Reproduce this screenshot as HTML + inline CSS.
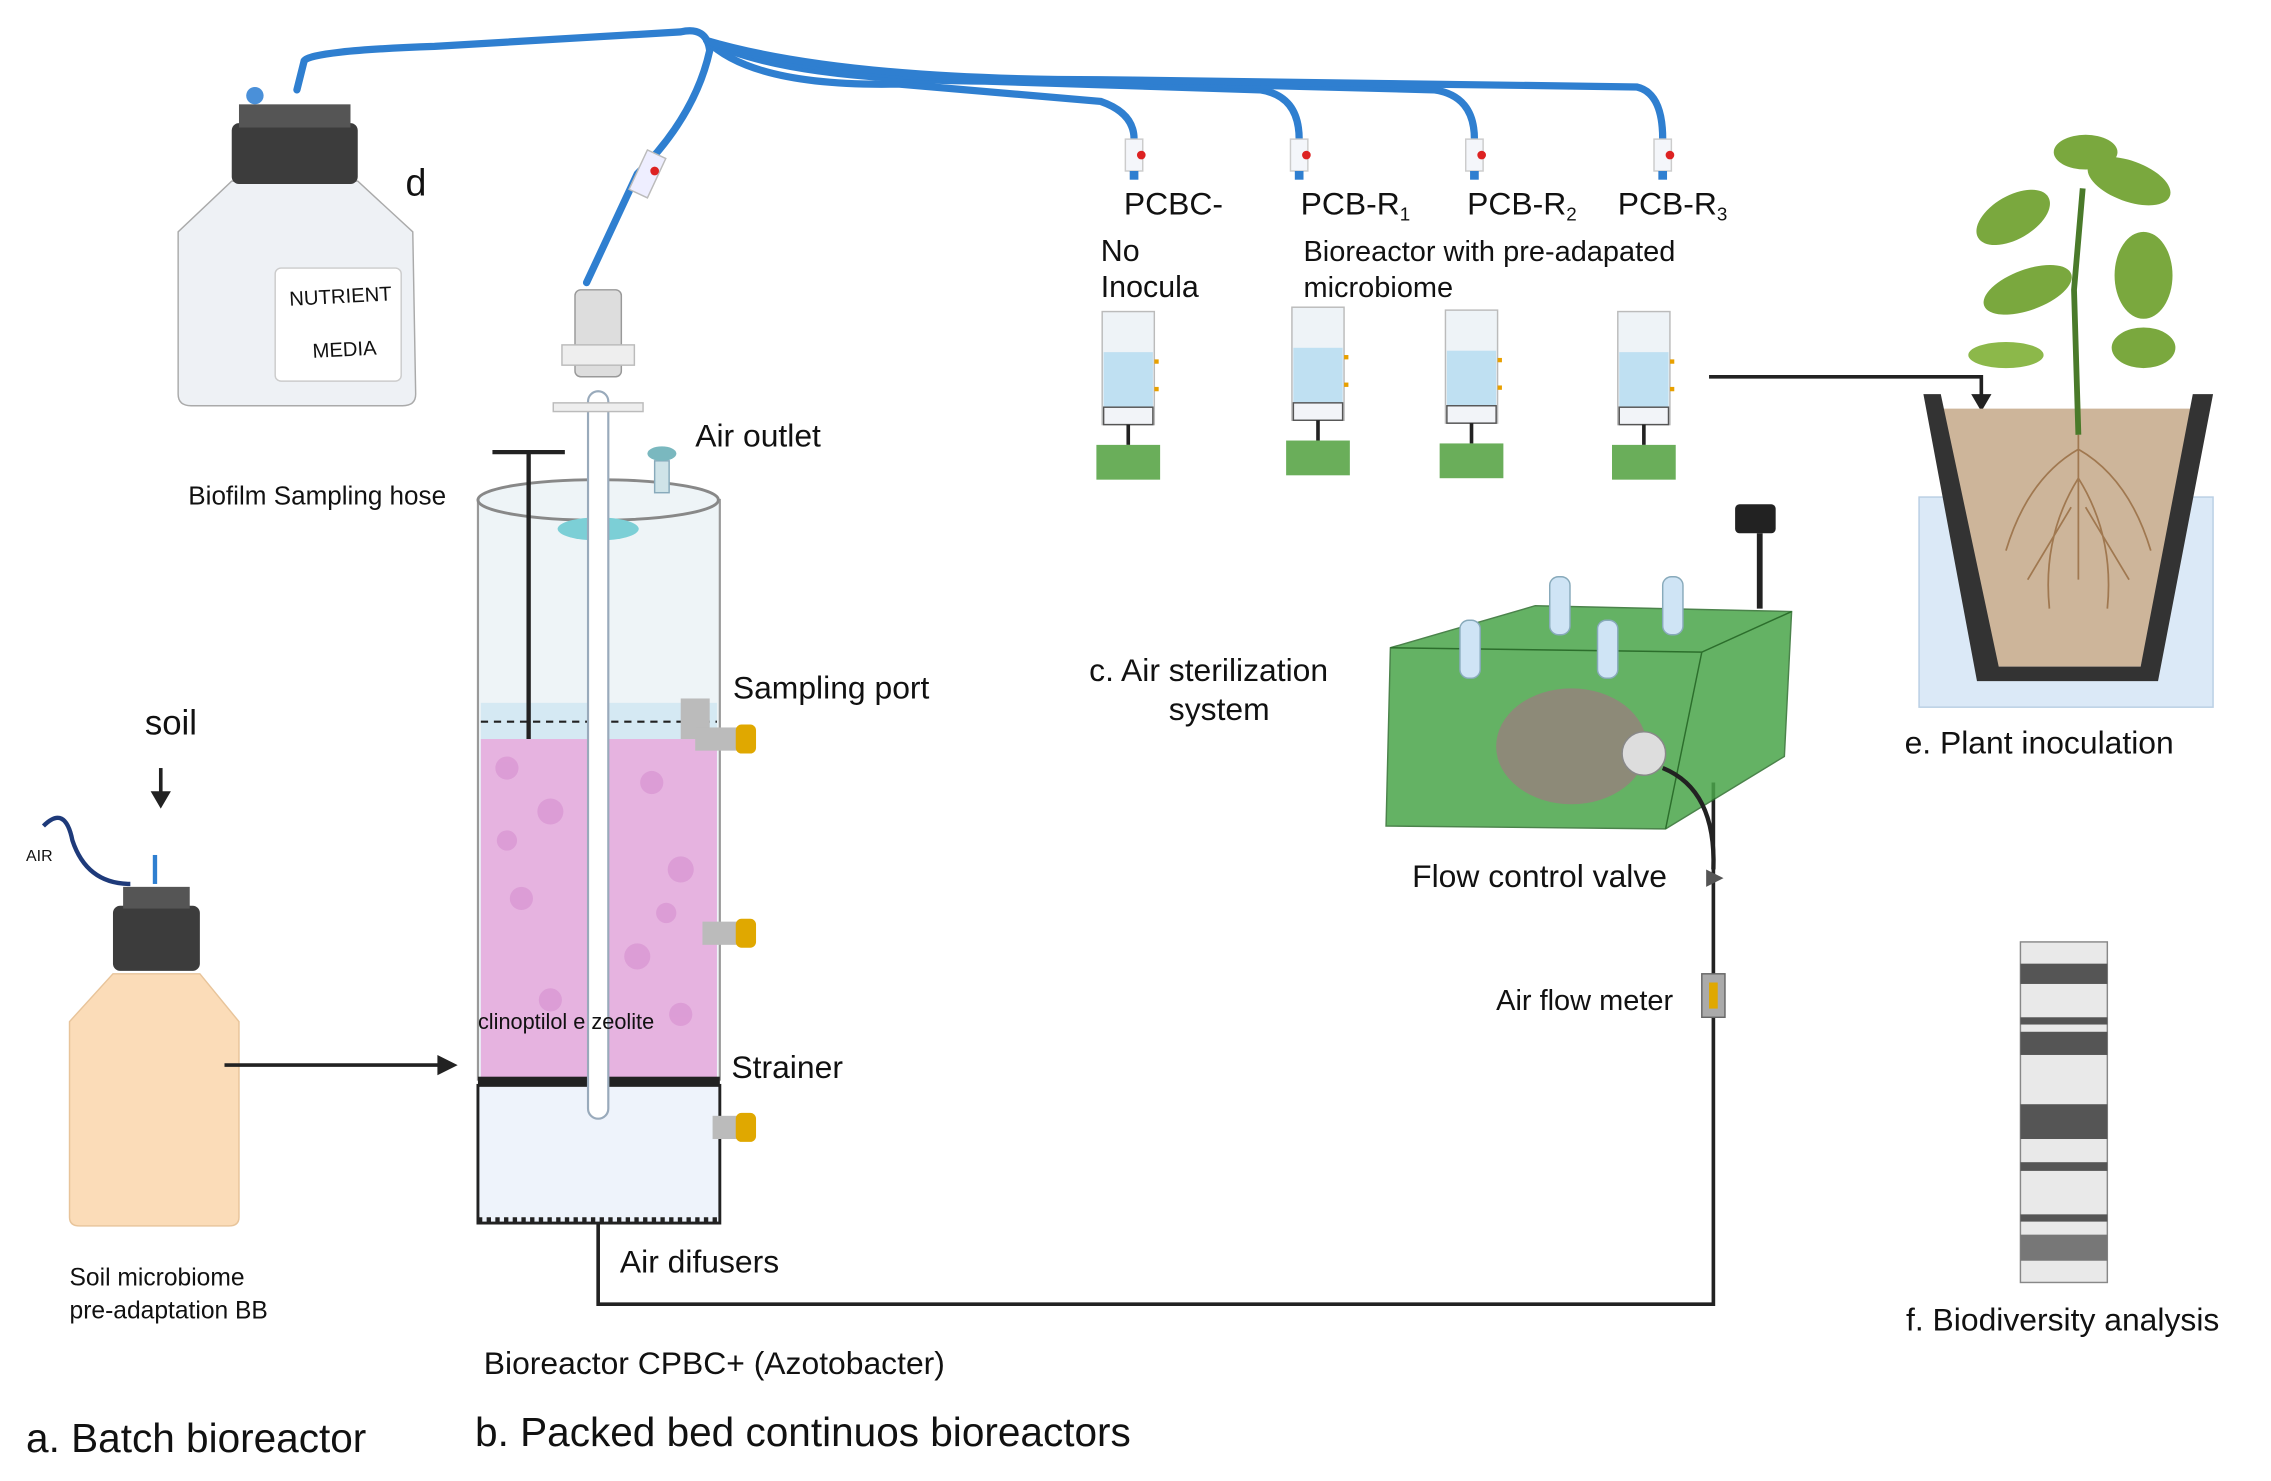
<!DOCTYPE html>
<html><head><meta charset="utf-8"><style>
html,body{margin:0;padding:0;background:#fff;}
svg{display:block;}
text{font-family:"Liberation Sans",sans-serif;fill:#111;}
</style></head><body>
<svg width="2271" height="1481" viewBox="0 0 1568 1022" preserveAspectRatio="none" xmlns="http://www.w3.org/2000/svg">
<defs>
<g id="sr">
<rect x="-18" y="0" width="36" height="78" fill="#eef3f7" stroke="#bbb"/>
<rect x="-17" y="28" width="34" height="38" fill="#bfe0f2"/>
<rect x="-17" y="66" width="34" height="12" fill="#f2f4f8" stroke="#555" stroke-width="1"/>
<line x1="0" y1="78" x2="0" y2="92" stroke="#222" stroke-width="2.5"/>
<rect x="-22" y="92" width="44" height="24" fill="#6aae5a"/>
<rect x="18" y="33" width="3" height="3" fill="#e8a000"/><rect x="18" y="52" width="3" height="3" fill="#e8a000"/>
</g>
</defs>
<rect width="1568" height="1022" fill="#fff"/>
<g fill="none" stroke="#2f7fd0" stroke-width="5" stroke-linecap="round">
<path d="M205,62 L210,42 Q215,35 300,32 L470,22 Q488,18 490,35 Q480,80 440,120 L405,195"/>
<path d="M488,28 Q520,60 620,58 L760,70 Q783,78 783,96"/>
<path d="M488,28 Q540,55 680,56 L870,62 Q897,66 897,96"/>
<path d="M488,28 Q560,55 720,55 L990,62 Q1018,66 1018,96"/>
<path d="M488,28 Q580,55 760,55 L1130,60 Q1148,64 1148,96"/>
</g>
<rect x="440" y="105" width="14" height="30" fill="#eef" stroke="#bbb" transform="rotate(25 447 120)"/>
<circle cx="452" cy="118" r="3" fill="#d22"/>
<g>
<g transform="translate(783,96)"><rect x="-6" y="0" width="12" height="22" fill="#f4f6fa" stroke="#ccc"/><circle cx="5" cy="11" r="3" fill="#d22"/><rect x="-3" y="22" width="6" height="6" fill="#2f7fd0"/></g>
<g transform="translate(897,96)"><rect x="-6" y="0" width="12" height="22" fill="#f4f6fa" stroke="#ccc"/><circle cx="5" cy="11" r="3" fill="#d22"/><rect x="-3" y="22" width="6" height="6" fill="#2f7fd0"/></g>
<g transform="translate(1018,96)"><rect x="-6" y="0" width="12" height="22" fill="#f4f6fa" stroke="#ccc"/><circle cx="5" cy="11" r="3" fill="#d22"/><rect x="-3" y="22" width="6" height="6" fill="#2f7fd0"/></g>
<g transform="translate(1148,96)"><rect x="-6" y="0" width="12" height="22" fill="#f4f6fa" stroke="#ccc"/><circle cx="5" cy="11" r="3" fill="#d22"/><rect x="-3" y="22" width="6" height="6" fill="#2f7fd0"/></g>
</g>
<text x="776" y="148" font-size="22">PCBC-</text>
<text x="760" y="180" font-size="21">No</text>
<text x="760" y="205" font-size="21">Inocula</text>
<text x="898" y="148" font-size="22">PCB-R<tspan font-size="13" dy="4">1</tspan></text>
<text x="1013" y="148" font-size="22">PCB-R<tspan font-size="13" dy="4">2</tspan></text>
<text x="1117" y="148" font-size="22">PCB-R<tspan font-size="13" dy="4">3</tspan></text>
<text x="900" y="180" font-size="20">Bioreactor with pre-adapated</text>
<text x="900" y="205" font-size="20">microbiome</text>
<use href="#sr" transform="translate(779,215)"/>
<use href="#sr" transform="translate(910,212)"/>
<use href="#sr" transform="translate(1016,214)"/>
<use href="#sr" transform="translate(1135,215)"/>
<path d="M1180,260 L1368,260 L1368,276" fill="none" stroke="#222" stroke-width="2.5"/>
<polygon points="1361,272 1375,272 1368,284" fill="#222"/>
<rect x="1325" y="343" width="203" height="145" fill="#dbe9f7" stroke="#b9cfe4"/>
<polygon points="1342,282 1515,282 1478,460 1378,460" fill="#cdb59a"/>
<path d="M1328,272 L1340,272 L1380,460 L1478,460 L1514,272 L1528,272 L1490,470 L1365,470 Z" fill="#333"/>
<g stroke="#a07850" stroke-width="1.2" fill="none">
<path d="M1435,300 L1435,400 M1435,310 Q1400,330 1385,380 M1435,310 Q1470,330 1485,380 M1435,330 Q1410,370 1415,420 M1435,330 Q1460,370 1455,420 M1430,350 L1400,400 M1440,350 L1470,400"/>
</g>
<path d="M1435,300 L1432,200 L1438,130" stroke="#4a7a2a" stroke-width="4" fill="none"/>
<g fill="#7aa83e">
<ellipse cx="1390" cy="150" rx="28" ry="15" transform="rotate(-30 1390 150)"/>
<ellipse cx="1470" cy="125" rx="30" ry="14" transform="rotate(20 1470 125)"/>
<ellipse cx="1400" cy="200" rx="32" ry="14" transform="rotate(-20 1400 200)"/>
<ellipse cx="1480" cy="190" rx="20" ry="30"/>
<ellipse cx="1440" cy="105" rx="22" ry="12"/>
<ellipse cx="1385" cy="245" rx="26" ry="9" fill="#8cb84a"/>
<ellipse cx="1480" cy="240" rx="22" ry="14"/>
</g>
<text x="1315" y="520" font-size="22">e. Plant inoculation</text>
<path d="M160,125 L247,125 L285,160 L287,272 Q287,280 278,280 L132,280 Q123,280 123,272 L123,160 Z" fill="#eef1f5" stroke="#aaa"/>
<rect x="160" y="85" width="87" height="42" rx="5" fill="#3c3c3c"/>
<rect x="165" y="72" width="77" height="16" fill="#555"/>
<rect x="190" y="185" width="87" height="78" rx="4" fill="#fff" stroke="#ccc"/>
<text x="200" y="211" font-size="14" transform="rotate(-3 200 211)">NUTRIENT</text>
<text x="216" y="247" font-size="14" transform="rotate(-3 216 247)">MEDIA</text>
<circle cx="176" cy="66" r="6" fill="#4a90d9"/>
<text x="280" y="135" font-size="26">d</text>
<rect x="330" y="345" width="167" height="400" fill="#eef4f7" stroke="#999" stroke-width="1.5"/>
<rect x="332" y="485" width="163" height="260" fill="#d5e9f3"/>
<rect x="332" y="510" width="163" height="235" fill="#e6b3e0"/>
<g fill="#d894d2" opacity="0.7">
<circle cx="350" cy="530" r="8"/><circle cx="380" cy="560" r="9"/><circle cx="450" cy="540" r="8"/><circle cx="470" cy="600" r="9"/><circle cx="360" cy="620" r="8"/><circle cx="440" cy="660" r="9"/><circle cx="380" cy="690" r="8"/><circle cx="470" cy="700" r="8"/><circle cx="350" cy="580" r="7"/><circle cx="460" cy="630" r="7"/>
</g>
<line x1="332" y1="498" x2="495" y2="498" stroke="#222" stroke-dasharray="5,4" stroke-width="1.5"/>
<ellipse cx="413" cy="345" rx="83" ry="14" fill="#eef4f7" stroke="#888" stroke-width="2"/>
<ellipse cx="413" cy="365" rx="28" ry="8" fill="#7ccfd6"/>
<rect x="330" y="743" width="167" height="6" fill="#222"/>
<rect x="330" y="749" width="167" height="95" fill="#eef3fb" stroke="#222" stroke-width="2"/>
<line x1="330" y1="842" x2="497" y2="842" stroke="#222" stroke-width="4" stroke-dasharray="3,3"/>
<rect x="406" y="270" width="14" height="502" rx="7" fill="#fff" stroke="#9ab" stroke-width="1.5"/>
<rect x="397" y="200" width="32" height="60" rx="4" fill="#ddd" stroke="#999"/>
<rect x="388" y="238" width="50" height="14" fill="#eee" stroke="#bbb"/>
<rect x="382" y="278" width="62" height="6" fill="#eee" stroke="#bbb"/>
<line x1="365" y1="312" x2="365" y2="510" stroke="#222" stroke-width="3"/>
<line x1="340" y1="312" x2="390" y2="312" stroke="#222" stroke-width="3"/>
<rect x="452" y="318" width="10" height="22" fill="#cfe3e8" stroke="#8ab"/>
<ellipse cx="457" cy="313" rx="10" ry="5" fill="#7ab8bf"/>
<g>
<rect x="470" y="482" width="20" height="28" fill="#bbb"/>
<rect x="480" y="502" width="30" height="16" fill="#bbb"/><rect x="508" y="500" width="14" height="20" rx="4" fill="#e0a800"/>
<rect x="485" y="636" width="25" height="16" fill="#bbb"/><rect x="508" y="634" width="14" height="20" rx="4" fill="#e0a800"/>
<rect x="492" y="770" width="18" height="16" fill="#bbb"/><rect x="508" y="768" width="14" height="20" rx="4" fill="#e0a800"/>
</g>
<text x="480" y="308" font-size="22">Air outlet</text>
<text x="130" y="348" font-size="18">Biofilm Sampling hose</text>
<text x="506" y="482" font-size="22">Sampling port</text>
<text x="330" y="710" font-size="15">clinoptilol e zeolite</text>
<text x="505" y="744" font-size="22">Strainer</text>
<text x="428" y="878" font-size="22">Air difusers</text>
<text x="334" y="948" font-size="22">Bioreactor CPBC+  (Azotobacter)</text>
<text x="328" y="998" font-size="28">b. Packed bed continuos bioreactors</text>
<text x="18" y="1002" font-size="28">a. Batch bioreactor</text>
<text x="100" y="507" font-size="24">soil</text>
<line x1="111" y1="530" x2="111" y2="550" stroke="#222" stroke-width="2.5"/>
<polygon points="104,546 118,546 111,558" fill="#222"/>
<text x="18" y="594" font-size="11">AIR</text>
<path d="M30,570 Q45,555 50,580 Q60,610 90,610" fill="none" stroke="#1e3a7a" stroke-width="3"/>
<line x1="107" y1="590" x2="107" y2="610" stroke="#2f7fd0" stroke-width="3"/>
<path d="M78,672 L138,672 L165,705 L165,840 Q165,846 158,846 L55,846 Q48,846 48,840 L48,705 Z" fill="#fbdcb8" stroke="#e8c49a"/>
<rect x="78" y="625" width="60" height="45" rx="5" fill="#3c3c3c"/>
<rect x="85" y="612" width="46" height="15" fill="#555"/>
<line x1="155" y1="735" x2="305" y2="735" stroke="#222" stroke-width="2.5"/>
<polygon points="302,728 316,735 302,742" fill="#222"/>
<text x="48" y="887" font-size="17">Soil microbiome</text>
<text x="48" y="910" font-size="17">pre-adaptation  BB</text>
<path d="M413,845 L413,900 L1183,900 L1183,540" fill="none" stroke="#222" stroke-width="2.5"/>
<rect x="1175" y="672" width="16" height="30" fill="#aaa" stroke="#666"/>
<rect x="1180" y="678" width="6" height="18" fill="#e0a800"/>
<text x="1033" y="697" font-size="20">Air flow meter</text>
<text x="975" y="612" font-size="22">Flow control valve</text>
<polygon points="1178,600 1190,606 1178,612" fill="#555"/>
<polygon points="960,447 1060,418 1237,422 1232,522 1150,572 957,570" fill="#4aa54a" opacity="0.85" stroke="#2c6e2c"/>
<polyline points="960,447 1175,450 1237,422" fill="none" stroke="#2c6e2c"/>
<line x1="1175" y1="450" x2="1150" y2="572" stroke="#2c6e2c"/>
<ellipse cx="1085" cy="515" rx="52" ry="40" fill="#8d8a78"/>
<circle cx="1135" cy="520" r="15" fill="#ddd" stroke="#888"/>
<path d="M1148,530 Q1185,545 1183,600" fill="none" stroke="#222" stroke-width="3"/>
<g fill="#cfe4f5" stroke="#8ab">
<rect x="1008" y="428" width="14" height="40" rx="6"/><rect x="1070" y="398" width="14" height="40" rx="6"/><rect x="1148" y="398" width="14" height="40" rx="6"/><rect x="1103" y="428" width="14" height="40" rx="6"/>
</g>
<rect x="1198" y="348" width="28" height="20" rx="3" fill="#222"/>
<path d="M1215,368 L1215,420" stroke="#222" stroke-width="4"/>
<text x="752" y="470" font-size="22">c. Air sterilization</text>
<text x="807" y="497" font-size="22">system</text>
<rect x="1395" y="650" width="60" height="235" fill="#e9e9e9" stroke="#888"/>
<g fill="#555">
<rect x="1395" y="665" width="60" height="14"/><rect x="1395" y="702" width="60" height="5"/><rect x="1395" y="712" width="60" height="16"/><rect x="1395" y="762" width="60" height="24"/><rect x="1395" y="802" width="60" height="6"/><rect x="1395" y="838" width="60" height="5"/><rect x="1395" y="852" width="60" height="18" fill="#777"/>
</g>
<text x="1316" y="918" font-size="22">f. Biodiversity analysis</text>
</svg>
</body></html>
